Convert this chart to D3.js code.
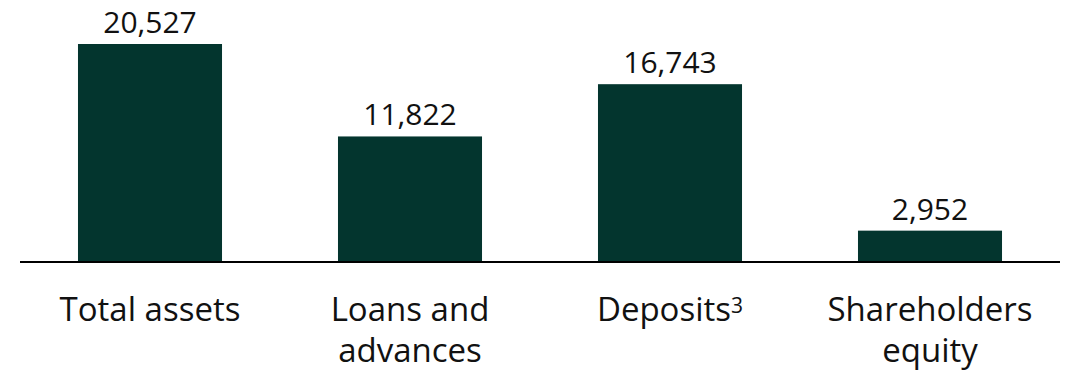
<!DOCTYPE html>
<html>
<head>
<meta charset="utf-8">
<script src="https://cdn.jsdelivr.net/npm/d3@7"></script>
<style>
  html, body { margin: 0; padding: 0; background: #ffffff; }
  svg { display: block; }
  text { font-family: "Open Sans", sans-serif; fill: #111111; }
</style>
</head>
<body>
<svg id="chart" width="1071" height="373"></svg>
<script>
// Balance sheet highlights
const categories = ["Total assets", "Loans and advances", "Deposits", "Shareholders equity"];
const labelLines = [["Total assets"], ["Loans and", "advances"], ["Deposits"], ["Shareholders", "equity"]];
const superscripts = ["", "", "3", ""];
const values = [20527, 11822, 16743, 2952];

const baseY = 262;
const barColor = "#03352e";

const svg = d3.select("#chart");

const x = d3.scaleBand()
  .domain(categories)
  .range([20, 1060])
  .paddingInner(0.446)
  .paddingOuter(0.223);

const y = d3.scaleLinear()
  .domain([0, 20527])
  .range([baseY, 44]);

// Bars
svg.selectAll("rect.bar")
  .data(values)
  .join("rect")
  .attr("class", "bar")
  .attr("x", (d, i) => x(categories[i]))
  .attr("width", x.bandwidth())
  .attr("y", d => y(d))
  .attr("height", d => baseY - y(d))
  .attr("fill", barColor);

// Value labels
const fmt = d3.format(",");
svg.selectAll("text.value")
  .data(values)
  .join("text")
  .attr("class", "value")
  .attr("x", (d, i) => x(categories[i]) + x.bandwidth() / 2)
  .attr("y", d => y(d) - 11)
  .attr("text-anchor", "middle")
  .attr("font-size", 30)
  .text(d => fmt(d));

// Baseline
svg.append("line")
  .attr("x1", 20).attr("x2", 1060)
  .attr("y1", baseY).attr("y2", baseY)
  .attr("stroke", "#000").attr("stroke-width", 2);

// Category labels
const cat = svg.selectAll("text.cat")
  .data(categories)
  .join("text")
  .attr("class", "cat")
  .attr("text-anchor", "middle")
  .attr("font-size", 33)
  .attr("x", d => x(d) + x.bandwidth() / 2)
  .attr("y", 321);

cat.each(function(d, i) {
  const t = d3.select(this);
  labelLines[i].forEach((line, j) => {
    t.append("tspan")
      .attr("x", x(d) + x.bandwidth() / 2)
      .attr("dy", j === 0 ? 0 : 41)
      .text(line);
  });
  if (superscripts[i]) {
    t.append("tspan")
      .attr("font-size", 21)
      .attr("dy", -8)
      .text(superscripts[i]);
  }
});
</script>
</body>
</html>
